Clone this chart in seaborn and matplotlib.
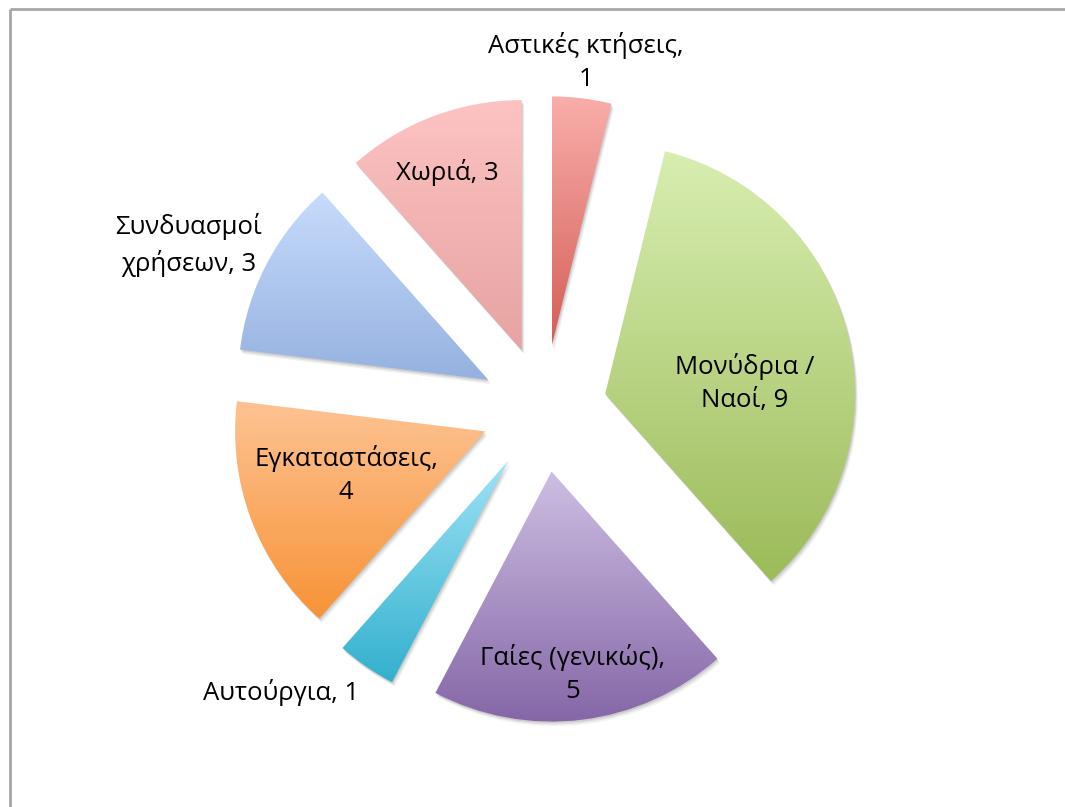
import matplotlib
matplotlib.use("Agg")
import matplotlib.pyplot as plt
import matplotlib.patches as mpatches
import numpy as np
import seaborn as sns

sns.set_style("white")
plt.rcParams["font.family"] = ["Open Sans", "DejaVu Sans"]

# Data (clockwise from 12 o'clock)
categories = [
    "Αστικές κτήσεις",
    "Μονύδρια /\nΝαοί",
    "Γαίες (γενικώς)",
    "Αυτούργια",
    "Εγκαταστάσεις",
    "Συνδυασμοί\nχρήσεων",
    "Χωριά",
]
values = [1, 9, 5, 1, 4, 3, 3]

# Gradient colours per slice (top -> bottom)
top_colors = ["#F9AEAA", "#D8EEB1", "#CDBFE2", "#9EE3F7", "#FEC394", "#C7DCFC", "#FDC3C3"]
bottom_colors = ["#D45D57", "#9CBB59", "#8465A6", "#33B0CD", "#F79336", "#95B1DF", "#E6A3A1"]

# Label text (how Excel wrapped them) and their anchor in pixels (y from top)
label_texts = [
    "Αστικές κτήσεις,\n1",
    "Μονύδρια /\nΝαοί, 9",
    "Γαίες (γενικώς),\n5",
    "Αυτούργια, 1",
    "Εγκαταστάσεις,\n4",
    "Συνδυασμοί\nχρήσεων, 3",
    "Χωριά, 3",
]
label_pos = [(586, 62), (745, 383), (573, 674), (281, 693), (346, 475), (189, 245), (447, 172)]

W, H = 1065, 807
fig = plt.figure(figsize=(W / 100, H / 100), dpi=100)
ax = fig.add_axes([0, 0, 1, 1])

center = (544, H - 409)
radius = 250
explode_px = 63

wedges, _ = ax.pie(
    values,
    startangle=90,
    counterclock=False,
    radius=radius,
    center=center,
    explode=[explode_px] * len(values),
    wedgeprops=dict(linewidth=0),
)

grad = np.linspace(0, 1, 256).reshape(-1, 1)
for i, w in enumerate(wedges):
    # soft drop shadow
    for k, a in [(4.5, 0.05), (3.0, 0.07), (1.5, 0.09)]:
        sh = mpatches.Wedge(
            (w.center[0] + k * 0.6, w.center[1] - k),
            w.r,
            w.theta1,
            w.theta2,
            facecolor="black",
            edgecolor="none",
            alpha=a,
            zorder=1,
        )
        ax.add_patch(sh)
    w.set_facecolor("none")
    w.set_edgecolor("none")
    w.set_zorder(2)
    verts = w.get_path().vertices
    x0, x1 = verts[:, 0].min(), verts[:, 0].max()
    y0, y1 = verts[:, 1].min(), verts[:, 1].max()
    cmap = sns.blend_palette([top_colors[i], bottom_colors[i]], as_cmap=True)
    im = ax.imshow(
        grad,
        cmap=cmap,
        extent=(x0, x1, y0, y1),
        origin="upper",
        aspect="auto",
        interpolation="bicubic",
        zorder=2,
    )
    im.set_clip_path(w)

for txt, (px, py) in zip(label_texts, label_pos):
    ax.text(
        px, H - py, txt, ha="center", va="center", fontsize=18.5,
        color="black", linespacing=1.45, zorder=5,
    )

# chart area frame
ax.plot([10, 10], [0, H - 9], color="#A6A6A6", lw=2, zorder=0, solid_capstyle="butt")
ax.plot([10, W], [H - 9, H - 9], color="#A6A6A6", lw=2, zorder=0, solid_capstyle="butt")

ax.set_xlim(0, W)
ax.set_ylim(0, H)
ax.set_aspect("equal")
ax.axis("off")

plt.savefig("out.png", dpi=100)
